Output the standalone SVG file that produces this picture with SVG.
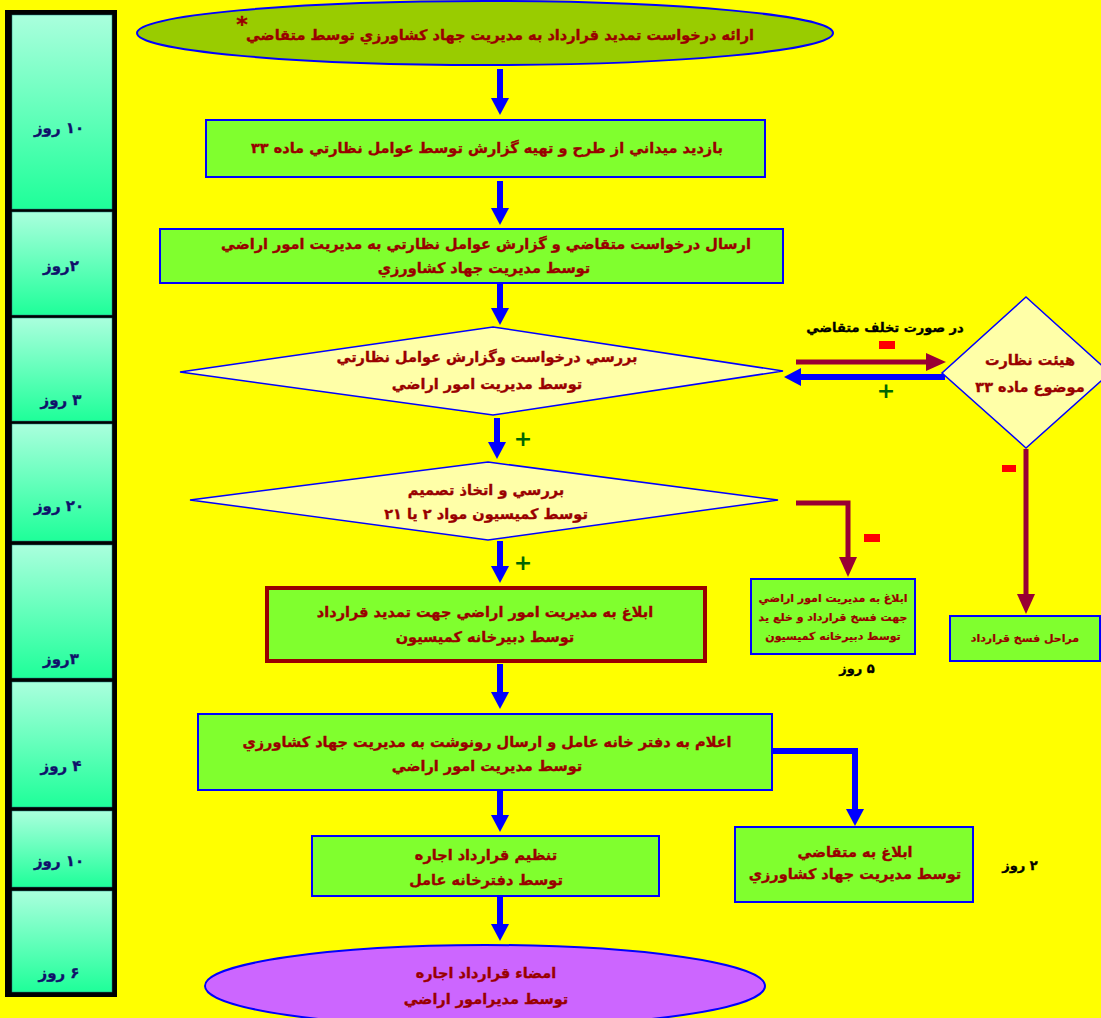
<svg xmlns="http://www.w3.org/2000/svg" width="1101" height="1018" viewBox="0 0 1101 1018">
<defs>
<linearGradient id="cg" x1="0" y1="0" x2="0" y2="1">
<stop offset="0" stop-color="#aaffdd"/>
<stop offset="1" stop-color="#1eff99"/>
</linearGradient>
<marker id="hb" viewBox="0 0 17 18" refX="1" refY="9" markerWidth="17" markerHeight="18" orient="auto" markerUnits="userSpaceOnUse"><path d="M0,0L17,9L0,18z" fill="#0000ff"/></marker>
<marker id="hm" viewBox="0 0 20 18" refX="1" refY="9" markerWidth="20" markerHeight="18" orient="auto" markerUnits="userSpaceOnUse"><path d="M0,0L20,9L0,18z" fill="#990033"/></marker>
<style>
.t{font-family:"DejaVu Sans","Liberation Sans",sans-serif;font-weight:bold;font-size:14.5px;fill:#990000;stroke:#990000;stroke-width:0.35;text-anchor:middle;direction:rtl}
.s{font-size:11px;stroke-width:0.2}
.d{fill:#10106a;stroke:#10106a;font-size:15px}
.k{fill:#000000;stroke:#000000;font-size:13px}
.box{fill:#80ff2e;stroke:#0000ff;stroke-width:2}
.dia{fill:#ffffa8;stroke:#0000ff;stroke-width:1.5}
.cell{fill:url(#cg);stroke:#208080;stroke-width:0.5}
.ab{fill:none;stroke:#0000ff;stroke-width:6;marker-end:url(#hb)}
.am{fill:none;stroke:#990033;stroke-width:5;marker-end:url(#hm)}
.plus{font-family:"DejaVu Sans",sans-serif;font-weight:bold;font-size:22px;fill:#006600;text-anchor:middle}
.minus{fill:#ff0000}
</style>
</defs>
<rect x="0" y="0" width="1101" height="1018" fill="#ffff00"/>

<g id="timeline">
<rect x="5" y="10" width="112" height="987" fill="#000000"/>
<rect class="cell" x="12" y="15" width="100" height="194"/>
<rect class="cell" x="12" y="212" width="100" height="103"/>
<rect class="cell" x="12" y="318" width="100" height="103"/>
<rect class="cell" x="12" y="424" width="100" height="117"/>
<rect class="cell" x="12" y="545" width="100" height="133"/>
<rect class="cell" x="12" y="682" width="100" height="125"/>
<rect class="cell" x="12" y="811" width="100" height="76"/>
<rect class="cell" x="12" y="891" width="100" height="101"/>
<text class="t d" x="59" y="133">۱۰ روز</text>
<text class="t d" x="61" y="271">۲روز</text>
<text class="t d" x="61" y="405">۳ روز</text>
<text class="t d" x="59" y="511">۲۰ روز</text>
<text class="t d" x="61" y="664">۳روز</text>
<text class="t d" x="61" y="771">۴ روز</text>
<text class="t d" x="59" y="866">۱۰ روز</text>
<text class="t d" x="59" y="978">۶  روز</text>
</g>

<g id="connectors">
<path class="ab" d="M500,69V99"/>
<path class="ab" d="M500,181V209"/>
<path class="ab" d="M500,284V309"/>
<path class="ab" d="M497,418V443"/>
<path class="ab" d="M500,541V567"/>
<path class="ab" d="M500,664V693"/>
<path class="ab" d="M500,791V816"/>
<path class="ab" d="M500,897V925"/>
<path class="ab" d="M945,377H800"/>
<path class="ab" d="M773,751H855V810"/>
<path class="am" d="M796,362H927"/>
<path class="am" d="M1026,449V595"/>
<path class="am" d="M796,503H848V558"/>
<text class="t k" x="885" y="332">در صورت تخلف متقاضي</text>
<rect class="minus" x="879" y="341" width="16" height="8"/>
<text class="plus" x="886" y="398">+</text>
<rect class="minus" x="1002" y="465" width="14" height="7"/>
<text class="plus" x="523" y="446">+</text>
<rect class="minus" x="864" y="534" width="16" height="8"/>
<text class="plus" x="523" y="570">+</text>
<text class="t k" x="857" y="673">۵ روز</text>
<text class="t k" x="1020" y="870">۲ روز</text>
</g>

<g id="start">
<ellipse cx="485" cy="33" rx="348" ry="32" fill="#99cc00" stroke="#0000ff" stroke-width="2"/>
<text class="t" x="242" y="32" style="font-size:22px">*</text>
<text class="t" x="500" y="40">ارائه درخواست تمديد قرارداد به مديريت جهاد كشاورزي  توسط متقاضي</text>
</g>

<g id="visit">
<rect class="box" x="206" y="120" width="559" height="57"/>
<text class="t" x="487" y="153">بازديد ميداني از طرح و تهيه گزارش توسط عوامل نظارتي ماده ۳۳</text>
</g>

<g id="send">
<rect class="box" x="160" y="229" width="623" height="54"/>
<text class="t" x="486" y="249">ارسال درخواست متقاضي و گزارش عوامل نظارتي به مديريت امور اراضي</text>
<text class="t" x="484" y="273">توسط مديريت جهاد كشاورزي</text>
</g>

<g id="review">
<polygon class="dia" points="493,327 783,371 493,415 180,372"/>
<text class="t" x="487" y="362">بررسي درخواست وگزارش عوامل نظارتي</text>
<text class="t" x="487" y="389">توسط مديريت امور اراضي</text>
</g>

<g id="commission">
<polygon class="dia" points="488,462 778,500 488,540 190,500"/>
<text class="t" x="486" y="495">بررسي و اتخاذ تصميم</text>
<text class="t" x="486" y="519">توسط كميسيون مواد ۲ يا ۲۱</text>
</g>

<g id="board">
<polygon class="dia" points="1026,297 1110,373 1026,448 942,373"/>
<text class="t" x="1030" y="365">هيئت نظارت</text>
<text class="t" x="1030" y="392">موضوع ماده ۳۳</text>
</g>

<g id="notify-extend">
<rect x="267" y="588" width="438" height="73" fill="#80ff2e" stroke="#990000" stroke-width="4"/>
<text class="t" x="485" y="617">ابلاغ به مديريت امور اراضي جهت تمديد قرارداد</text>
<text class="t" x="485" y="642">توسط دبيرخانه كميسيون</text>
</g>

<g id="notify-cancel">
<rect class="box" x="751" y="579" width="164" height="75"/>
<text class="t s" x="833" y="602">ابلاغ به مديريت امور اراضي</text>
<text class="t s" x="833" y="621">جهت فسخ قرارداد و خلع يد</text>
<text class="t s" x="833" y="640">توسط دبيرخانه كميسيون</text>
</g>

<g id="cancel">
<rect class="box" x="950" y="616" width="150" height="45"/>
<text class="t s" x="1025" y="642">مراحل فسخ قرارداد</text>
</g>

<g id="announce">
<rect class="box" x="198" y="714" width="574" height="76"/>
<text class="t" x="487" y="747">اعلام به دفتر خانه عامل و ارسال رونوشت به مديريت جهاد كشاورزي</text>
<text class="t" x="487" y="771">توسط مديريت امور اراضي</text>
</g>

<g id="notify-applicant">
<rect class="box" x="735" y="827" width="238" height="75"/>
<text class="t" x="855" y="857">ابلاغ به متقاضي</text>
<text class="t" x="855" y="879">توسط مديريت جهاد كشاورزي</text>
</g>

<g id="draft">
<rect class="box" x="312" y="836" width="347" height="60"/>
<text class="t" x="486" y="860">تنظيم قرارداد اجاره</text>
<text class="t" x="486" y="885">توسط دفترخانه عامل</text>
</g>

<g id="sign">
<ellipse cx="485" cy="986" rx="280" ry="41" fill="#cc66ff" stroke="#0000ff" stroke-width="2"/>
<text class="t" x="486" y="978">امضاء قرارداد اجاره</text>
<text class="t" x="486" y="1004">توسط مديرامور اراضي</text>
</g>
</svg>
